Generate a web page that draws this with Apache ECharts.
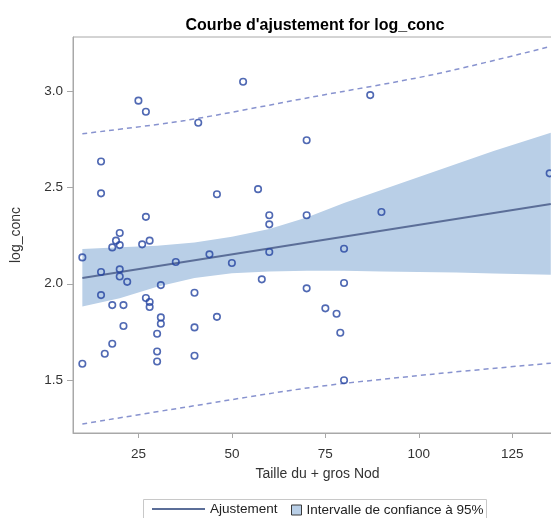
<!DOCTYPE html>
<html><head><meta charset="utf-8">
<script src="https://cdn.jsdelivr.net/npm/echarts@6/dist/echarts.min.js"></script>
<style>html,body{margin:0;padding:0;overflow:hidden;background:#fff;width:551px;height:518px}#c{width:630px;height:518px}</style>
</head><body><div id="c"></div><script>
// ---- data ----
const titleText = "Courbe d'ajustement for log_conc";
const xName = 'Taille du + gros Nod';
const yName = 'log_conc';
const xTicks = [25, 50, 75, 100, 125];
const yTicks = [1.5, 2.0, 2.5, 3.0];

const obsX = [10,10,15,15,15,15,16,18,18,18,19,20,20,20,20,21,21,22,25,26,27,27,27,28,28,28,30,30,30,31,31,31,35,40,40,40,41,44,46,46,50,53,57,58,60,60,60,70,70,70,75,78,79,80,80,80,87,90,135];
const obsY = [2.137,1.584,2.636,2.470,2.061,1.941,1.636,2.189,1.688,1.889,2.224,2.264,2.201,2.075,2.038,1.889,1.780,2.010,2.952,2.205,2.894,2.348,1.926,2.224,1.905,1.879,1.740,1.648,1.596,1.993,1.825,1.792,2.113,1.953,1.773,1.626,2.837,2.153,2.465,1.828,2.108,3.050,2.492,2.023,2.165,2.356,2.309,2.746,2.356,1.976,1.872,1.844,1.745,2.182,2.004,1.498,2.981,2.373,2.574];

const fitX = [10, 135.3];
const fitY = [2.03, 2.415];

const bandX = [10,20,30,40,50,60,70,80,90,100,110,120,135.3];
const bandUpper = [2.181,2.190,2.198,2.215,2.245,2.285,2.345,2.420,2.487,2.555,2.623,2.690,2.785];
const bandLower = [1.882,1.925,1.985,2.030,2.055,2.064,2.067,2.067,2.064,2.061,2.058,2.053,2.047];

const predX = [10, 37.5, 70.9, 103.7, 135.3];
const predUpper = [2.780, 2.849, 2.969, 3.087, 3.234];
const predLower = [1.271, 1.358, 1.460, 1.530, 1.587];

const ciName = 'Intervalle de confiance à 95%';
const fitName = 'Ajustement';
// ---------------------------------------

const FONT = 'Liberation Sans, Arial, sans-serif';
const zip = (a, b) => a.map((v, i) => [v, b[i]]);
const BAND = '#b9cfe7';

const chart = echarts.init(document.getElementById('c'), null, {renderer: 'canvas'});
chart.setOption({
  animation: false,
  backgroundColor: '#fff',
  title: {text: titleText, left: 'center', top: 13,
    textStyle: {fontFamily: FONT, fontSize: 16, fontWeight: 'bold', color: '#000'}},
  grid: {left: 73, right: 68, top: 37, bottom: 85, show: true, borderColor: '#a8a8a8', borderWidth: 1},
  xAxis: {
    type: 'value', min: 7.5, max: 138.3,
    name: xName, nameLocation: 'middle', nameGap: 34,
    nameTextStyle: {fontFamily: FONT, fontSize: 14, color: '#333'},
    axisLine: {show: true, onZero: false, lineStyle: {color: '#a8a8a8'}},
    axisTick: {show: true, length: 5, customValues: xTicks, lineStyle: {color: '#a8a8a8'}},
    axisLabel: {customValues: xTicks, margin: 14, fontFamily: FONT, fontSize: 13.5, color: '#333'},
    splitLine: {show: false}
  },
  yAxis: {
    type: 'value', min: 1.224, max: 3.283,
    name: yName, nameLocation: 'middle', nameGap: 50,
    nameTextStyle: {fontFamily: FONT, fontSize: 14, color: '#333'},
    axisLine: {show: true, onZero: false, lineStyle: {color: '#a8a8a8'}},
    axisTick: {show: true, length: 6, customValues: yTicks, lineStyle: {color: '#a8a8a8'}},
    axisLabel: {customValues: yTicks, margin: 10, fontFamily: FONT, fontSize: 13.5, color: '#333',
      formatter: v => v.toFixed(1)},
    splitLine: {show: false}
  },
  legend: [
    {data: [{name: fitName, itemStyle: {opacity: 0}}], left: 151, top: 502, padding: 0, itemWidth: 53, itemHeight: 12,
      selectedMode: false, textStyle: {fontFamily: FONT, fontSize: 13.5, color: '#222'}},
    {data: [{name: ciName, icon: 'rect', itemStyle: {color: BAND, borderColor: '#3a3a3a', borderWidth: 1}}],
      left: 291, top: 503, padding: 0, itemWidth: 10, itemHeight: 10,
      selectedMode: false, textStyle: {fontFamily: FONT, fontSize: 13.5, color: '#222'}}
  ],
  graphic: [{type: 'rect', shape: {x: 143.5, y: 499.5, width: 343, height: 30},
    style: {fill: 'none', stroke: '#c8c8c8', lineWidth: 1}, silent: true}],
  series: [
    {name: ciName, type: 'custom', data: bandX.map((x, i) => [x, bandLower[i], bandUpper[i]]),
      itemStyle: {color: BAND}, silent: true, z: 1, clip: true,
      renderItem: function (params, api) {
        if (params.dataIndex !== 0) return null;
        const up = bandX.map((x, i) => api.coord([x, bandUpper[i]]));
        const lo = bandX.map((x, i) => api.coord([x, bandLower[i]])).reverse();
        return {type: 'polygon', shape: {points: up.concat(lo)}, style: {fill: BAND}};
      }},
    {name: 'predUpper', type: 'line', data: zip(predX, predUpper), symbol: 'none', smooth: 0.3,
      lineStyle: {color: '#8893cf', width: 1.5, type: [5, 4]}, silent: true, z: 2},
    {name: 'predLower', type: 'line', data: zip(predX, predLower), symbol: 'none', smooth: 0.3,
      lineStyle: {color: '#8893cf', width: 1.5, type: [5, 4]}, silent: true, z: 2},
    {name: fitName, type: 'line', data: zip(fitX, fitY), symbol: 'none',
      lineStyle: {color: '#5b6e98', width: 2}, itemStyle: {color: '#5b6e98'}, silent: true, z: 3},
    {name: 'obs', type: 'scatter', data: zip(obsX, obsY), symbol: 'circle', symbolSize: 6.5,
      itemStyle: {color: 'rgba(0,0,0,0)', borderColor: '#2443a0', borderWidth: 1.6}, z: 4}
  ]
});
</script></body></html>
